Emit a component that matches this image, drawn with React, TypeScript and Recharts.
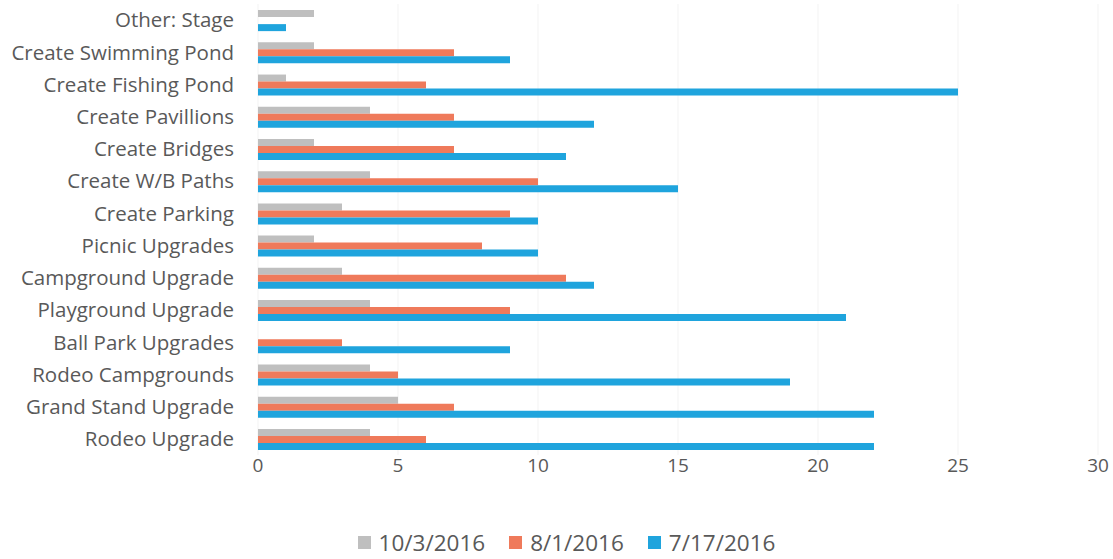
import React from "react";
import {
  BarChart,
  Bar,
  XAxis,
  YAxis,
  CartesianGrid,
  Legend,
} from "recharts";

const categories = [
  "Other: Stage",
  "Create Swimming Pond",
  "Create Fishing Pond",
  "Create Pavillions",
  "Create Bridges",
  "Create W/B Paths",
  "Create Parking",
  "Picnic Upgrades",
  "Campground Upgrade",
  "Playground Upgrade",
  "Ball Park Upgrades",
  "Rodeo Campgrounds",
  "Grand Stand Upgrade",
  "Rodeo Upgrade",
];

const oct3 = [2, 2, 1, 4, 2, 4, 3, 2, 3, 4, 0, 4, 5, 4];
const aug1 = [0, 7, 6, 7, 7, 10, 9, 8, 11, 9, 3, 5, 7, 6];
const jul17 = [1, 9, 25, 12, 11, 15, 10, 10, 12, 21, 9, 19, 22, 22];

const xTicks = [0, 5, 10, 15, 20, 25, 30];

const SERIES = [
  { key: "oct3", name: "10/3/2016", color: "#bfbfbf" },
  { key: "aug1", name: "8/1/2016", color: "#ef7a5b" },
  { key: "jul17", name: "7/17/2016", color: "#1fa4dd" },
];
const TEXT = "#595959";
const FONT = "'Open Sans', Lato, sans-serif";

const data = categories.map((name, i) => ({
  name,
  oct3: oct3[i],
  aug1: aug1[i],
  jul17: jul17[i],
}));

const LegendContent = () => (
  <div
    style={{
      height: 44,
      display: "flex",
      justifyContent: "center",
      alignItems: "center",
      gap: 24,
      fontFamily: FONT,
      fontSize: 22.5,
      color: TEXT,
      paddingLeft: 35,
      paddingTop: 10,
      boxSizing: "border-box",
    }}
  >
    {SERIES.map(s => (
      <div key={s.key} style={{ display: "flex", alignItems: "center" }}>
        <span style={{ width: 13, height: 13, background: s.color, marginRight: 8, display: "inline-block" }} />
        <span>{s.name}</span>
      </div>
    ))}
  </div>
);

const App = () => (
  <div
    style={{
      position: "absolute",
      left: 0,
      top: 0,
      width: 1113,
      height: 559,
      background: "#fff",
      fontFamily: FONT,
      overflow: "visible",
    }}
  >
    <style>{"html, body { margin: 0; overflow: hidden; }"}</style>
    <BarChart
      width={1113}
      height={559}
      data={data}
      layout="vertical"
      margin={{ top: 4, right: 15, bottom: 0, left: 0 }}
      barCategoryGap="19%"
      barGap={0}
      style={{ overflow: "visible" }}
    >
      <CartesianGrid horizontal={false} stroke="#f3f3f3" />
      <XAxis
        type="number"
        domain={[0, 30]}
        ticks={xTicks}
        axisLine={false}
        tickLine={false}
        tickMargin={0}
        height={60}
        tick={{ fill: TEXT, fontSize: 19, fontFamily: FONT, dy: -2 }}
      />
      <YAxis
        type="category"
        dataKey="name"
        width={258}
        axisLine={false}
        tickLine={false}
        tickSize={0}
        tickMargin={24}
        interval={0}
        tick={{ fill: TEXT, fontSize: 20.5, fontFamily: FONT }}
      />
      <Legend verticalAlign="bottom" height={44} content={LegendContent} />
      {SERIES.map(s => (
        <Bar key={s.key} dataKey={s.key} name={s.name} fill={s.color} isAnimationActive={false} />
      ))}
    </BarChart>
  </div>
);

export default App;
